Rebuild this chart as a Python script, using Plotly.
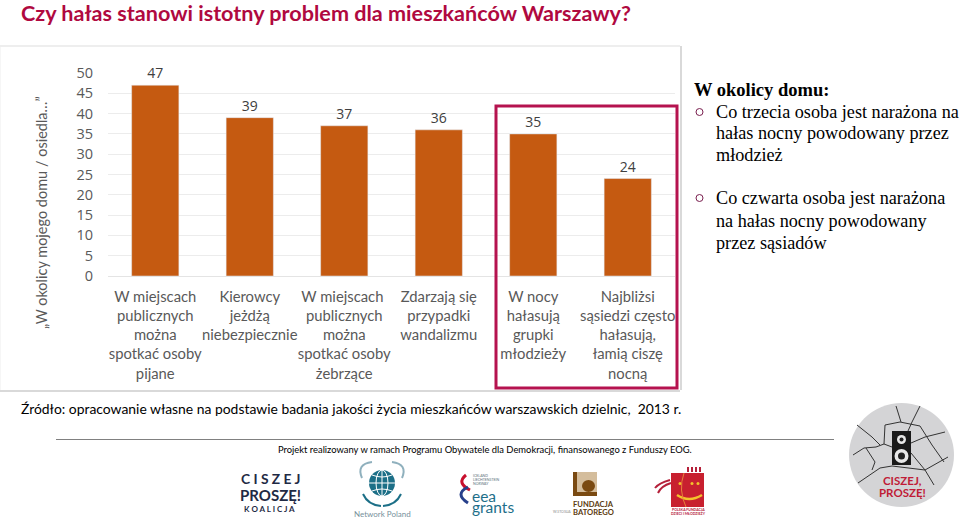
import plotly.graph_objects as go

categories = ["W miejscach<br>publicznych<br>można<br>spotkać osoby<br>pijane",
              "Kierowcy<br>jeżdżą<br>niebezpiecznie",
              "W miejscach <br>publicznych<br>można<br>spotkać osoby<br>żebrzące",
              "Zdarzają się<br>przypadki<br>wandalizmu",
              "W nocy<br>hałasują<br>grupki<br>młodzieży",
              "Najbliżsi<br>sąsiedzi często<br>hałasują,<br>łamią ciszę<br>nocną"]
values = [47, 39, 37, 36, 35, 24]
y_ticks = [0, 5, 10, 15, 20, 25, 30, 35, 40, 45, 50]
y_title = "„W okolicy mojego domu / osiedla…”"
title = "Czy hałas stanowi istotny problem dla mieszkańców Warszawy?"
source = "Źródło: opracowanie własne na podstawie badania jakości życia mieszkańców warszawskich dzielnic,  2013 r."
project = "Projekt realizowany w ramach Programu Obywatele dla Demokracji, finansowanego z Funduszy EOG."
side_head = "W okolicy domu:"
side_lines = ["Co trzecia osoba jest narażona na", "hałas nocny powodowany przez", "młodzież", "",
              "Co czwarta osoba jest narażona", "na hałas nocny powodowany", "przez sąsiadów"]

L, R, T, B = 108, 675, 73, 276
def px(x): return (x - L) / (R - L)
def py(y): return (B - y) / (B - T)

SANS = "Lato"
GREY = "#595959"
fig = go.Figure(go.Bar(x=categories, y=values, marker_color="#c55a11", width=0.5,
                       text=values, textposition="outside", cliponaxis=False,
                       textfont=dict(family="Open Sans", size=14, color="#404040"), hoverinfo="skip"))
shapes, ann = [], []
def rect(x0, y0, x1, y1, **kw):
    shapes.append(dict(type="rect", xref="paper", yref="paper", x0=px(x0), x1=px(x1), y0=py(y0), y1=py(y1), **kw))
def line(x0, y0, x1, y1, color, w=1):
    shapes.append(dict(type="line", xref="paper", yref="paper", x0=px(x0), x1=px(x1), y0=py(y0), y1=py(y1), line=dict(color=color, width=w)))
def circle(x0, y0, x1, y1, **kw):
    shapes.append(dict(type="circle", xref="paper", yref="paper", x0=px(x0), x1=px(x1), y0=py(y0), y1=py(y1), **kw))
def poly(points, color, w=1):
    path = "M " + " L ".join(f"{px(x)} {py(y)}" for x, y in points)
    shapes.append(dict(type="path", xref="paper", yref="paper", path=path, line=dict(color=color, width=w)))
def curve(x0, y0, cx, cy, x1, y1, color, w=1):
    shapes.append(dict(type="path", xref="paper", yref="paper", line=dict(color=color, width=w),
                       path=f"M {px(x0)} {py(y0)} Q {px(cx)} {py(cy)} {px(x1)} {py(y1)}"))
def text(x, y, s, size, color="#000", family=SANS, anchor="left"):
    ann.append(dict(xref="paper", yref="paper", x=px(x - 2 if anchor == "left" else x), y=py(y), text=s, showarrow=False,
                    xanchor=anchor, yanchor="middle", font=dict(size=size, color=color, family=family)))

# panel edges
line(0, 46, 680, 46, "#eeeeee", 2)
line(681, 46, 681, 390, "#d9d9d9", 2)
line(0, 391, 680, 391, "#d9d9d9", 2)
line(0, 46, 0, 390, "#eeeeee", 1)
# highlight box
rect(496, 106, 677, 388, line=dict(color="#b5134f", width=3))
# y title
ann.append(dict(xref="paper", yref="paper", x=px(41), y=py(213), text=y_title, textangle=-90, showarrow=False,
                xanchor="center", yanchor="middle", font=dict(size=14.5, color=GREY, family=SANS)))
text(21, 13, "<b>" + title + "</b>", 21.6, "#b0093f", "Lato")
text(21, 408, source, 13.9, "#000000", "Lato")
text(278, 449, project, 9.4, "#000000", "Lato")
line(56, 439.5, 834, 439.5, "#808080", 1)
# side text
SERIF = "Liberation Serif"
text(694, 90, "<b>" + side_head + "</b>", 18.5, "#000", SERIF)
ys = [112, 133, 155, 0, 198, 221, 243]
for s, y in zip(side_lines, ys):
    if s: text(716, y, s, 18.2, "#000", SERIF)
for y in (112, 198):
    circle(696, y - 3.5, 703, y + 3.5, line=dict(color="#7a1f4f", width=1))

# logo: Ciszej, proszę! Koalicja
text(270, 478, "<b>C I S Z E J</b>", 13.8, "#1f2a44", "Lato", "center")
text(270, 495, "<b>PROSZĘ!</b>", 15, "#1f2a44", "Lato", "center")
text(269, 509, "<b>K O A L I C J A</b>", 8, "#1f2a44", "Lato", "center")
# logo: Global Compact
circle(369, 470, 395, 496, fillcolor="#1c6f87", line=dict(width=0))
circle(376, 470, 388, 496, line=dict(color="white", width=1))
line(382, 470, 382, 496, "white", 1)
line(369, 483, 395, 483, "white", 1)
curve(372, 475, 382, 479, 392, 475, "white", 1)
curve(372, 491, 382, 487, 392, 491, "white", 1)
curve(362, 478, 356, 464, 372, 462, "#8fb0bd", 2)
curve(392, 462, 408, 464, 402, 478, "#8fb0bd", 2)
curve(363, 494, 368, 505, 381, 506, "#1c6f87", 2)
curve(401, 494, 396, 505, 383, 506, "#1c6f87", 2)
text(382, 514, "Network Poland", 8, "#77909b", "Lato", "center")
# logo: eea grants
text(473, 476, "ICELAND", 3.5, "#5a6f7a", "Lato")
text(473, 480, "LIECHTENSTEIN", 3.5, "#5a6f7a", "Lato")
text(473, 484, "NORWAY", 3.5, "#5a6f7a", "Lato")
text(472, 496, "eea", 15.5, "#1e6f8a", "Lato")
text(472, 507, "grants", 15.5, "#1e6f8a", "Lato")
curve(466, 475, 456, 483, 470, 490, "#c8102e", 3)
curve(468, 487, 454, 494, 468, 503, "#27408b", 3)
# logo: Fundacja Batorego
rect(573, 472, 597, 496, fillcolor="#d4bd9c", line=dict(width=0))
circle(582, 480, 595, 492, fillcolor="#7a4a12", line=dict(width=0))
rect(573, 492, 597, 496, fillcolor="#7a4a12", line=dict(width=0))
rect(573, 472, 577, 494, fillcolor="#7a4a12", line=dict(width=0))
text(573, 504, "<b>FUNDACJA</b>", 7.6, "#5b3a0e", "Lato")
text(573, 512, "<b>BATOREGO</b>", 7.6, "#5b3a0e", "Lato")
text(553, 512, "W.STOSUA", 3.5, "#8a8a8a", "Lato")
# logo: Polska Fundacja
rect(671, 473, 704, 507, fillcolor="#c8202f", line=dict(width=0))
for x in (688, 692, 696, 700):
    line(x, 467, x, 472, "#b5203a", 2)
for x in (680, 692, 698):
    circle(x - 1.5, 482, x + 1.5, 485, fillcolor="#f3c32c", line=dict(width=0))
curve(677, 495, 689, 503, 702, 495, "#f3c32c", 2.5)
curve(684, 473, 678, 490, 686, 507, "#e8833a", 1)
curve(655, 488, 659, 483, 670, 480, "#b5203a", 2)
curve(658, 493, 661, 486, 671, 483, "#b5203a", 2)
text(688, 509.5, "<b>POLSKA FUNDACJA</b>", 3.5, "#b5203a", "Lato", "center")
text(688, 513.5, "<b>DZIECI I MŁODZIEŻY</b>", 3.5, "#b5203a", "Lato", "center")
# sticker
circle(849, 403, 954, 507, fillcolor="#d4d4d6", line=dict(width=0))
for pts in [[(853, 455), (864, 448), (876, 447), (884, 444), (892, 447)],
            [(857, 425), (872, 437), (880, 445)],
            [(885, 425), (900, 422), (920, 426), (932, 445), (944, 462)],
            [(896, 406), (901, 422)], [(920, 406), (912, 422), (908, 431)],
            [(911, 443), (925, 437), (945, 432)],
            [(911, 453), (925, 470), (948, 457)],
            [(858, 483), (880, 468), (892, 466), (925, 470), (934, 485)],
            [(866, 448), (875, 462), (872, 470)], [(884, 444), (885, 425)]]:
    poly(pts, "#333", 1)
rect(892, 431, 911, 465, fillcolor="#1a1a1a", line=dict(width=0))
circle(897, 435, 906, 444, fillcolor="#e8e8e8", line=dict(width=0))
circle(899.5, 437.5, 903.5, 441.5, fillcolor="#222", line=dict(width=0))
circle(894.5, 449, 908.5, 463, fillcolor="#e8e8e8", line=dict(width=0))
circle(898, 452.5, 905, 459.5, fillcolor="#222", line=dict(width=0))
text(902, 480, "<b>CISZEJ,</b>", 11.5, "#c01c37", "Lato", "center")
text(902, 492.5, "<b>PROSZĘ!</b>", 11.5, "#c01c37", "Lato", "center")

fig.update_layout(width=960, height=518, autosize=False, margin=dict(l=L, r=960 - R, t=T, b=518 - B),
                  paper_bgcolor="white", plot_bgcolor="white", showlegend=False, bargap=0.5,
                  shapes=shapes, annotations=ann, font=dict(family=SANS))
fig.update_xaxes(showgrid=False, showline=True, linecolor="#e4e4e4", ticks="", tickangle=0,
                 tickfont=dict(family=SANS, size=14.8, color=GREY), ticklabelstandoff=7)
fig.update_yaxes(range=[0, 50], tickvals=y_ticks, showgrid=True, gridcolor="#ececec", zeroline=False, showline=False,
                 tickfont=dict(family="Open Sans", size=14.5, color=GREY), ticklabelstandoff=14)
fig.write_html("out.html", config=dict(displayModeBar=False),
               post_script="document.body.style.margin='0';document.documentElement.style.overflow='hidden';")
